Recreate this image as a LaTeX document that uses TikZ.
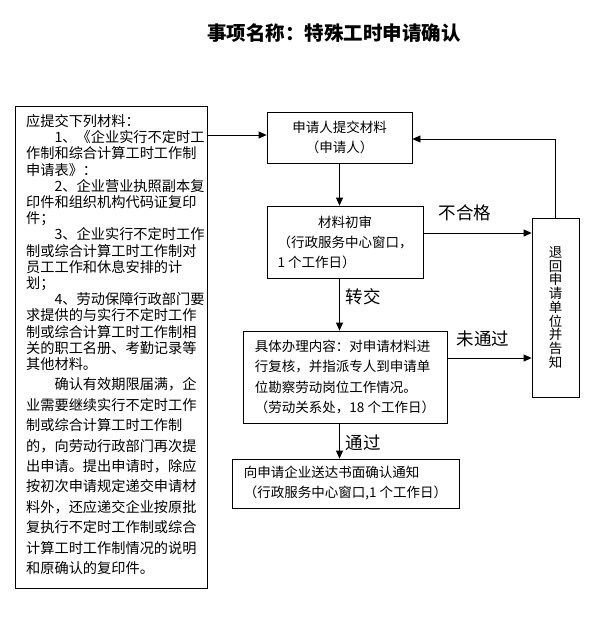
\documentclass[tikz,border=0pt]{standalone}
\usepackage{fontspec}
\setmainfont{Noto Sans CJK SC}
\usetikzlibrary{arrows.meta}
\begin{document}
\begin{tikzpicture}[x=1pt,y=-1pt,
  box/.style={draw,line width=0.8pt,inner sep=0pt,font=\fontsize{13.5}{20}\selectfont},
  arr/.style={line width=0.8pt,-{Triangle[length=8pt,width=7pt]}},
  lbl/.style={inner sep=0pt,font=\fontsize{17.5}{20}\selectfont}]
\useasboundingbox (0,0) rectangle (599,640);
\node[inner sep=0pt,font=\fontsize{19.5}{22}\selectfont\bfseries] (title) at (334,33) {事项名称：特殊工时申请确认};
\node[draw,line width=0.8pt,minimum width=192pt,minimum height=482pt,inner sep=0pt] (lbox) at (111,347) {};
\node[anchor=north west,inner sep=0pt,text width=180pt,align=left,font=\fontsize{14.2}{16.2}\selectfont] (ltext) at (26,114.2) {\parskip=0pt 应提交下列材料：\\
　　1、《企业实行不定时工\\
作制和综合计算工时工作制\\
申请表》：\\
　　2、企业营业执照副本复\\
印件和组织机构代码证复印\\
件；\\
　　3、企业实行不定时工作\\
制或综合计算工时工作制对\\
员工工作和休息安排的计\\
划；\\
　　4、劳动保障行政部门要\\
求提供的与实行不定时工作\\
制或综合计算工时工作制相\\
关的职工名册、考勤记录等\\
其他材料。\par
{\fontsize{14.2}{20.4}\selectfont 　　确认有效期限届满，企\\
业需要继续实行不定时工作\\
制或综合计算工时工作制\\
的，向劳动行政部门再次提\\
出申请。提出申请时，除应\\
按初次申请规定递交申请材\\
料外，还应递交企业按原批\\
复执行不定时工作制或综合\\
计算工时工作制情况的说明\\
和原确认的复印件。\par}};
\node[box,minimum width=145pt,minimum height=51pt,align=center] (b1) at (339.5,137.5) {申请人提交材料\\（申请人）};
\node[box,minimum width=156pt,minimum height=72pt,align=left] (b2) at (345,242) {　　　材料初审\\（行政服务中心窗口，\\1 个工作日）};
\node[box,minimum width=204pt,minimum height=92pt,align=left,font=\fontsize{13.5}{20.5}\selectfont] (b3) at (345,377) {具体办理内容：对申请材料进\\行复核，并指派专人到申请单\\位勘察劳动岗位工作情况。\\（劳动关系处，18 个工作日）};
\node[box,minimum width=227pt,minimum height=49pt,align=left] (b4) at (345.5,483.5) {向申请企业送达书面确认通知\\（行政服务中心窗口,1 个工作日）};
\node[box,minimum width=47pt,minimum height=179pt,align=center,font=\fontsize{13.5}{13.7}\selectfont] (rb) at (555.5,307.5) {退\\回\\申\\请\\单\\位\\并\\告\\知};
\node[lbl] (l1) at (465,213) {不合格};
\node[lbl] (l2) at (363,297) {转交};
\node[lbl] (l3) at (483,339) {未通过};
\node[lbl] (l4) at (363,443) {通过};
\draw[arr] (lbox.east |- 0,135) -- (b1.west |- 0,135);
\draw[arr] (b1.south) -- (b1.south |- b2.north);
\draw[arr] (b1.south |- b2.south) -- (b1.south |- b3.north);
\draw[arr] (b1.south |- b3.south) -- (b1.south |- b4.north);
\draw[arr] (b2.east |- 0,233) -- (rb.west |- 0,233);
\draw[arr] (b3.east |- 0,358) -- (rb.west |- 0,358);
\draw[arr] (rb.north) -- (rb.north |- 0,139) -- (b1.east |- 0,139);
\end{tikzpicture}
\end{document}
